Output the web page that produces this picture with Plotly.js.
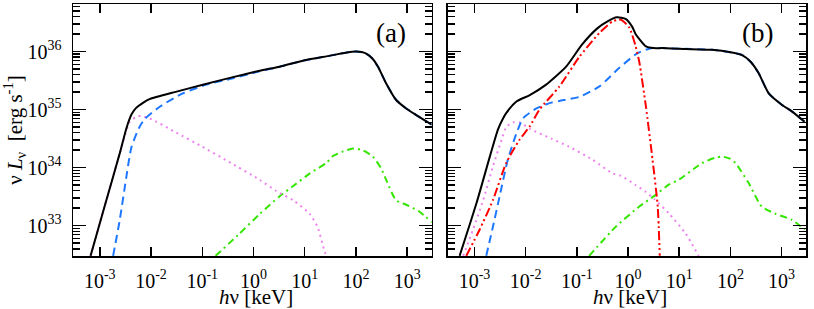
<!DOCTYPE html>
<html>
<head>
<meta charset="utf-8">
<script src="https://cdn.plot.ly/plotly-3.0.1.min.js"></script>
<style>html,body{margin:0;padding:0;background:#fff;}#chart{width:814px;height:309px;}</style>
</head>
<body>
<div id="chart"></div>
<script>
// Values are log10(hν / keV) and log10(νLν / erg s^-1)
// Panel (a)
var aTotalLogE = [-3.18,-2.9,-2.6,-2.48,-2.38,-2.29,-2.15,-2.03,-1.5,-0.99,-0.4,0.12,0.51,1.0,1.5,1.85,2.0,2.19,2.32,2.43,2.59,2.78,2.98,3.17,3.48];
var aTotalLogL = [32.48,33.35,34.28,34.68,34.92,35.03,35.12,35.18,35.31,35.43,35.56,35.67,35.74,35.85,35.93,35.99,36.0,35.97,35.88,35.74,35.45,35.17,35.02,34.91,34.74];
var aComptLogE = [-2.74,-2.61,-2.48,-2.38,-2.22,-2.12,-1.83,-1.38,-0.92,-0.4,0.12,0.51,1.0,1.5,1.85,2.0,2.19,2.32,2.43,2.59,2.78,2.98,3.17,3.48];
var aComptLogL = [32.48,33.1,33.85,34.36,34.71,34.84,35.05,35.28,35.43,35.54,35.66,35.74,35.85,35.93,35.99,36.0,35.97,35.88,35.74,35.45,35.17,35.02,34.91,34.74];
var aSynLogE = [-3.18,-2.9,-2.6,-2.5,-2.42,-2.3,-2.2,-2.03,-1.5,-1.0,-0.5,0.12,0.44,0.77,1.09,1.25,1.38,1.42];
var aSynLogL = [32.48,33.35,34.28,34.58,34.78,34.87,34.89,34.85,34.6,34.36,34.11,33.79,33.6,33.44,33.21,32.98,32.58,32.48];
var aHadLogE = [-0.74,-0.3,0.12,0.5,0.8,1.1,1.42,1.55,1.75,1.94,2.13,2.33,2.49,2.59,2.78,2.98,3.24,3.48];
var aHadLogL = [32.48,32.84,33.2,33.5,33.7,33.9,34.08,34.2,34.28,34.33,34.3,34.19,33.99,33.79,33.44,33.36,33.24,33.06];

// Panel (b)
var bTotalLogE = [-3.29,-2.96,-2.7,-2.54,-2.44,-2.38,-2.18,-1.92,-1.6,-1.21,-0.9,-0.6,-0.4,-0.22,-0.04,0.08,0.15,0.35,0.5,0.67,1.0,1.64,2.0,2.23,2.4,2.55,2.75,3.01,3.2,3.45];
var bTotalLogL = [32.48,33.39,34.19,34.66,34.85,34.94,35.14,35.25,35.43,35.74,36.12,36.4,36.52,36.59,36.56,36.43,36.3,36.09,36.06,36.06,36.05,36.03,35.99,35.94,35.82,35.63,35.28,35.08,34.97,34.79];
var bDiskLogE = [-3.16,-2.9,-2.64,-2.38,-2.12,-1.92,-1.73,-1.34,-0.95,-0.56,-0.3,-0.14,0.02,0.15,0.22,0.35,0.48,0.58,0.62];
var bDiskLogL = [32.48,32.93,33.44,34.08,34.48,34.71,35.0,35.4,35.91,36.32,36.52,36.55,36.42,36.09,35.82,35.05,34.13,33.33,32.48];
var bComptLogE = [-2.77,-2.64,-2.51,-2.35,-2.18,-2.05,-1.79,-1.5,-1.34,-0.95,-0.56,-0.17,0.18,0.41,0.5,0.67,1.0,1.64,2.0,2.23,2.4,2.55,2.75,3.01,3.2,3.45];
var bComptLogL = [32.48,32.98,33.5,34.13,34.59,34.85,35.02,35.12,35.15,35.22,35.4,35.72,35.97,36.05,36.06,36.06,36.05,36.03,35.99,35.94,35.82,35.63,35.28,35.08,34.97,34.79];
var bSynLogE = [-3.22,-3.03,-2.83,-2.64,-2.47,-2.38,-2.25,-2.12,-1.92,-1.5,-1.15,-0.7,-0.3,-0.14,0.15,0.35,0.51,0.8,1.12,1.38];
var bSynLogL = [32.48,32.93,33.44,34.02,34.48,34.7,34.78,34.78,34.67,34.5,34.36,34.14,33.9,33.86,33.7,33.58,33.46,33.21,32.87,32.48];
var bHadLogE = [-0.76,-0.24,0.22,0.54,0.8,0.99,1.45,1.7,1.84,2.0,2.1,2.36,2.61,2.87,3.2,3.45];
var bHadLogL = [32.48,32.98,33.33,33.53,33.71,33.79,34.08,34.17,34.19,34.15,34.08,33.73,33.33,33.21,33.1,32.93];

var xTickVals = [1e-3,1e-2,1e-1,1,10,100,1000];
var xTickText = ['10<sup>-3</sup>','10<sup>-2</sup>','10<sup>-1</sup>','10<sup>0</sup>','10<sup>1</sup>','10<sup>2</sup>','10<sup>3</sup>'];
var yTickVals = [1e33,1e34,1e35,1e36];
var yTickText = ['10<sup>33</sup>','10<sup>34</sup>','10<sup>35</sup>','10<sup>36</sup>'];
var panelLabels = ['(a)','(b)'];
var xTitle = '<i>h</i>ν [keV]';
var yTitle = 'ν <i>L</i><sub>ν</sub>  [erg s<sup>-1</sup>]';

function pw(arr){ return arr.map(function(v){ return Math.pow(10, v); }); }

var BLACK = '#000000', BLUE = '#1e78ff', PINK = '#ee82ee', GREEN = '#33e600', RED = '#ff0000';

function tr(le, ll, color, dash, ax, width){
  return {x: pw(le), y: pw(ll), type:'scatter', mode:'lines',
    xaxis: ax==2?'x2':'x', yaxis: ax==2?'y2':'y',
    line:{color:color, width:width||2, dash:dash, shape:'spline', smoothing:0.6},
    hoverinfo:'skip', showlegend:false, cliponaxis:true};
}

var data = [
  tr(aHadLogE, aHadLogL, GREEN, '7px,4px,2px,4px', 1),
  tr(aSynLogE, aSynLogL, PINK, '2px,4px', 1),
  tr(aComptLogE, aComptLogL, BLUE, '8px,5px', 1),
  tr(aTotalLogE, aTotalLogL, BLACK, 'solid', 1),
  tr(bHadLogE, bHadLogL, GREEN, '7px,4px,2px,4px', 2),
  tr(bSynLogE, bSynLogL, PINK, '2px,4px', 2),
  tr(bComptLogE, bComptLogL, BLUE, '8px,5px', 2),
  tr(bDiskLogE, bDiskLogL, RED, '9px,3px,2px,3px,2px,3px', 2),
  tr(bTotalLogE, bTotalLogL, BLACK, 'solid', 2)
];

var FONT = 'Liberation Serif';
var xRange = [Math.log10(3e-4), Math.log10(3e3)];
var yRange = [Math.log10(3e32), 36.82];

function xax(domain, anchor){
  return {type:'log', domain:domain, anchor:anchor, range:xRange,
    tickvals:xTickVals, ticktext:xTickText,
    ticks:'inside', ticklen:9, tickwidth:1.5, tickcolor:'#000',
    showline:true, linewidth:1.5, linecolor:'#000', mirror:'allticks',
    showgrid:false, zeroline:false,
    ticklabelstandoff:6,
    tickfont:{family:FONT, size:20, color:'#000'}};
}
function yax(anchor, labels){
  return {type:'log', anchor:anchor, range:yRange,
    tickvals:yTickVals, ticktext:yTickText,
    ticks:'inside', ticklen:13, tickwidth:1.5, tickcolor:'#000',
    minor:{ticks:'inside', ticklen:7, tickwidth:1.5, tickcolor:'#000', dtick:'D1', showgrid:false},
    showline:true, linewidth:1.5, linecolor:'#000', mirror:'allticks',
    showgrid:false, zeroline:false, showticklabels:labels,
    ticklabelstandoff:6,
    tickfont:{family:FONT, size:20, color:'#000'},
    title: labels ? {text:yTitle, font:{family:FONT, size:21, color:'#000'}, standoff:5} : {text:''}};
}

var layout = {
  width:814, height:309,
  margin:{l:73, r:8, t:4, b:53},
  paper_bgcolor:'#fff', plot_bgcolor:'#fff',
  font:{family:FONT, color:'#000'},
  xaxis: xax([0, 0.4893], 'y'),
  yaxis: yax('x', true),
  xaxis2: xax([0.5112, 1], 'y2'),
  yaxis2: yax('x2', false),
  annotations:[
    {text:panelLabels[0], xref:'x domain', yref:'y domain', x:0.886, y:0.885, showarrow:false, font:{family:FONT, size:27, color:'#000'}, xanchor:'center', yanchor:'middle'},
    {text:panelLabels[1], xref:'x2 domain', yref:'y2 domain', x:0.866, y:0.885, showarrow:false, font:{family:FONT, size:27, color:'#000'}, xanchor:'center', yanchor:'middle'},
    {text:xTitle, xref:'x domain', yref:'paper', x:0.51, y:-0.162, showarrow:false, font:{family:FONT, size:21, color:'#000'}, xanchor:'center', yanchor:'middle'},
    {text:xTitle, xref:'x2 domain', yref:'paper', x:0.51, y:-0.162, showarrow:false, font:{family:FONT, size:21, color:'#000'}, xanchor:'center', yanchor:'middle'}
  ]
};

Plotly.newPlot('chart', data, layout, {staticPlot:true, displayModeBar:false});
</script>
</body>
</html>
